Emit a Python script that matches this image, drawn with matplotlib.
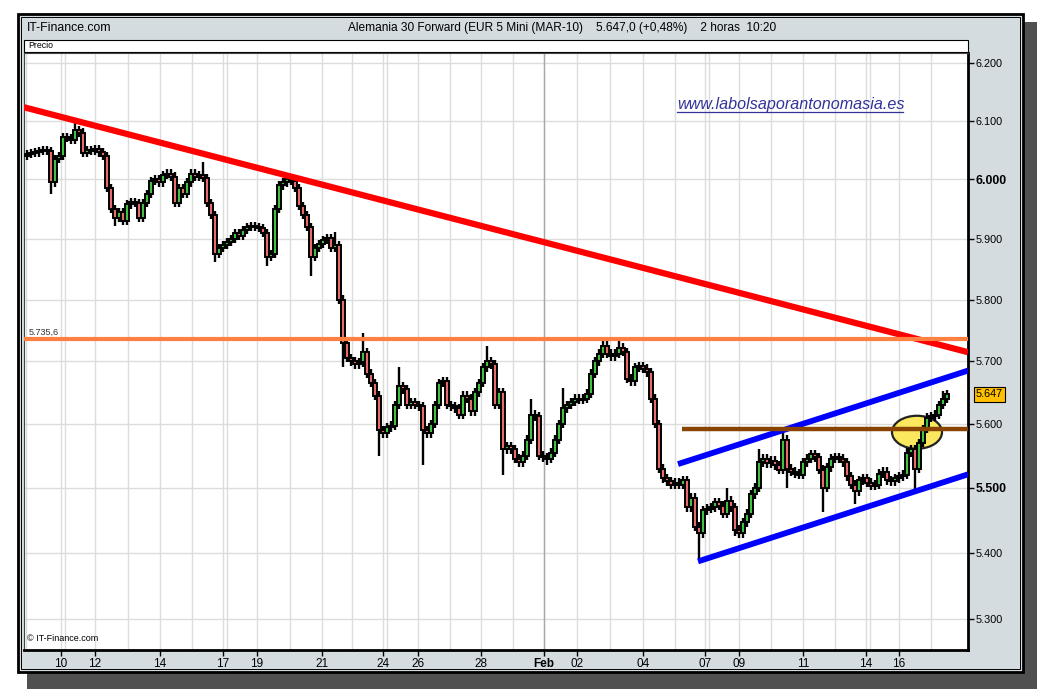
import matplotlib
matplotlib.use("Agg")
import matplotlib.pyplot as plt
from matplotlib.patches import Rectangle, Ellipse
import numpy as np

# ---------------- data ----------------
closes = [
    6043, 6045, 6046, 6048, 6050, 6048, 5995, 6035, 6040, 6072,
    6070, 6068, 6085, 6080, 6045, 6050, 6048, 6052, 6046, 6040,
    5985, 5950, 5935, 5945, 5930, 5958, 5962, 5960, 5935, 5960,
    5975, 5998, 6000, 5995, 6008, 6010, 6005, 5960, 5985, 5975,
    5995, 6010, 6005, 6008, 6002, 5960, 5940, 5875, 5885, 5890,
    5895, 5900, 5910, 5905, 5915, 5920, 5922, 5920, 5918, 5910,
    5870, 5875, 5950, 5990, 5995, 6000, 5998, 5985, 5955, 5940,
    5920, 5870, 5885, 5892, 5898, 5902, 5885, 5890, 5800, 5730,
    5705, 5700, 5695, 5698, 5715, 5680, 5665, 5645, 5590, 5585,
    5595, 5597, 5630, 5660, 5655, 5630, 5635, 5630, 5628, 5590,
    5585, 5600, 5630, 5665, 5668, 5630, 5628, 5625, 5615, 5645,
    5640, 5620, 5650, 5665, 5690, 5700, 5695, 5630, 5650, 5560,
    5565, 5560, 5545, 5540, 5550, 5575, 5615, 5612, 5550, 5548,
    5545, 5555, 5575, 5600, 5625, 5630, 5635, 5640, 5638, 5640,
    5648, 5680, 5700, 5712, 5725, 5712, 5708, 5712, 5722, 5715,
    5672, 5668, 5690, 5692, 5688, 5682, 5640, 5600, 5530, 5515,
    5510, 5505, 5508, 5505, 5512, 5470, 5485, 5440, 5430, 5465,
    5468, 5470, 5478, 5472, 5460, 5480, 5470, 5435, 5430, 5447,
    5460, 5490, 5500, 5540, 5545, 5538, 5542, 5535, 5528, 5575,
    5530, 5525, 5522, 5520, 5540, 5545, 5552, 5548, 5528, 5500,
    5532, 5545, 5548, 5545, 5540, 5518, 5505, 5495, 5512, 5515,
    5508, 5503, 5505, 5522, 5525, 5512, 5510, 5515, 5518, 5520,
    5555, 5560, 5530, 5570, 5592, 5610, 5612, 5615, 5630, 5640,
    5647,
]
first_open = 6040
# notable wick extremes (bar index -> price)
spike_highs = {4: 6057, 12: 6097, 44: 6030, 77: 5912, 84: 5745, 93: 5690,
               115: 5725, 126: 5640, 134: 5657, 144: 5735, 148: 5735,
               175: 5500, 183: 5560, 189: 5590, 229: 5652}
spike_lows = {6: 5975, 22: 5922, 28: 5928, 47: 5862, 60: 5855, 71: 5838,
              79: 5690, 88: 5550, 99: 5535, 119: 5520, 130: 5535,
              168: 5390, 177: 5425, 190: 5500, 199: 5462, 207: 5475,
              222: 5490}
base_wick = 7

# dates: (bar position, label)
tick_pos = [8.5, 17, 33.25, 49, 57.5, 73.75, 89, 97.75, 113.5, 129.25,
            137.5, 154, 169.5, 178, 194, 209.75, 218]
tick_lab = ["10", "12", "14", "17", "19", "21", "24", "26", "28", "Feb",
            "02", "04", "07", "09", "11", "14", "16"]
day_lines = [-0.25, 8.5, 9.5, 17, 25.25, 33.25, 41.25, 49, 50, 57.5, 65.75,
             73.75, 81.25, 89, 90, 97.75, 105.75, 113.5, 121.5, 129.25,
             137.5, 145.75, 154, 162, 169.5, 170.5, 178, 186, 194, 202,
             209.75, 210.75, 218, 226]
feb_line = 129.25

price_ticks = [5300, 5400, 5500, 5600, 5700, 5800, 5900, 6000, 6100, 6200]
bold_ticks = [5500, 6000]

# drawn lines
red_line = ([-0.75, 235.25], [6123.5, 5714.6])
orange_level = 5735.6
blue_upper = ([162.75, 235.25], [5537, 5685])
blue_lower = ([167.75, 235.25], [5387, 5521])
brown_level = ([163.75, 235.25], 5592)
ellipse_c = (222.5, 5587)
ellipse_wh = (12.5, 52)

# ---------------- figure ----------------
W, H = 1040, 690
fig = plt.figure(figsize=(W / 100, H / 100), dpi=100)
fig.patch.set_facecolor("white")

def fx(x):
    return x / W

def fy(y):
    return 1 - y / H

def frect(x0, y0, x1, y1, **kw):
    r = Rectangle((fx(x0), fy(y1)), fx(x1) - fx(x0), fy(y0) - fy(y1),
                  transform=fig.transFigure, **kw)
    fig.patches.append(r)
    return r

# shadow + panel
frect(27, 22, 1037, 689, facecolor="#505050", edgecolor="none", zorder=-3)
frect(18, 14, 1023, 672, facecolor="#d4dce0", edgecolor="black", lw=2.0, zorder=-2)
frect(21, 17, 1020, 669, facecolor="none", edgecolor="black", lw=0.7, zorder=-1.5)
# Precio bar
frect(24, 40, 968, 52, facecolor="white", edgecolor="black", lw=0.8, zorder=-1)

narrow = ["Liberation Sans Narrow", "Liberation Sans", "DejaVu Sans"]
fig.text(fx(27), fy(28), "IT-Finance.com", fontsize=8.8, family=narrow,
         va="center", ha="left")
fig.text(fx(562), fy(28),
         "Alemania 30 Forward (EUR 5 Mini (MAR-10)    5.647,0 (+0,48%)    2 horas  10:20",
         fontsize=8.6, family=narrow, va="center", ha="center")
fig.text(fx(28), fy(46), "Precio", fontsize=6.3, family=narrow,
         va="center", ha="left")

ax = fig.add_axes([fx(24), fy(650), fx(968) - fx(24), fy(53) - fy(650)])
ax.set_zorder(2)
ax.set_facecolor("white")
ax.set_yscale("log")
ax.set_xlim(-0.75, 235.25)
ax.set_ylim(5254, 6218)

# grid
for d in day_lines:
    ax.axvline(d, color="#dcdcdc", lw=1.0, zorder=0.5)
ax.axvline(feb_line, color="#a8a8a8", lw=1.0, zorder=0.6)
for p in price_ticks:
    ax.axhline(p, color="#dcdcdc", lw=1.0, zorder=0.5)

# candles
n = len(closes)
xs = np.arange(n)
opens = [first_open] + closes[:-1]
highs, lows = [], []
for i in range(n):
    top = max(opens[i], closes[i])
    bot = min(opens[i], closes[i])
    highs.append(spike_highs.get(i, top + base_wick))
    lows.append(spike_lows.get(i, bot - base_wick))
ax.vlines(xs, lows, highs, color="black", lw=1.7, zorder=2.5)
cols = ["#3fc23f" if c >= o else "#e86a6a" for o, c in zip(opens, closes)]
bots = [min(o, c) for o, c in zip(opens, closes)]
hts = [max(abs(c - o), 2.0) for o, c in zip(opens, closes)]
ax.bar(xs, hts, bottom=bots, width=0.8, color=cols, edgecolor="black",
       lw=1.4, zorder=3)

# ellipse
ax.add_patch(Ellipse(ellipse_c, ellipse_wh[0], ellipse_wh[1],
                     facecolor="#fbe85e", edgecolor="#222222", lw=1.6, zorder=2))

# lines
ax.plot(red_line[0], red_line[1], color="#ff0000", lw=4.5, zorder=4,
        solid_capstyle="butt")
ax.axhline(orange_level, color="#ff8040", lw=3.0, zorder=4)
ax.plot(blue_upper[0], blue_upper[1], color="#0000ff", lw=4.2, zorder=4,
        solid_capstyle="butt")
ax.plot(blue_lower[0], blue_lower[1], color="#0000ff", lw=4.2, zorder=4,
        solid_capstyle="butt")
ax.plot(brown_level[0], [brown_level[1]] * 2, color="#884400", lw=3.2,
        zorder=4, solid_capstyle="butt")

def fmt_thousands(v, dec=0):
    s = f"{v:,.{dec}f}"
    return s.replace(",", "X").replace(".", ",").replace("X", ".")

ax.text(0.5, orange_level * 1.0008, fmt_thousands(orange_level, 1),
        fontsize=6.5, color="#333333", va="bottom", ha="left",
        family=["Liberation Sans", "DejaVu Sans"], zorder=5)

# watermark
ax.text((677 - 24) / 944, 1 - (104 - 53) / 597,
        "www.labolsaporantonomasia.es", transform=ax.transAxes,
        fontsize=11.6, style="italic", color="#333399",
        family=["Liberation Sans", "DejaVu Sans"], va="center", ha="left",
        zorder=6)
ax.plot([(677 - 24) / 944, (903 - 24) / 944],
        [1 - (111.5 - 53) / 597] * 2, transform=ax.transAxes,
        color="#333399", lw=0.9, zorder=6)
ax.text(0.003, 0.012, "© IT-Finance.com", transform=ax.transAxes,
        fontsize=6.5, family=["Liberation Sans", "DejaVu Sans"],
        va="bottom", ha="left", zorder=6)

# axes styling
ax.yaxis.tick_right()
ax.set_yticks(price_ticks)
ax.set_yticklabels([fmt_thousands(p) for p in price_ticks])
ax.yaxis.set_minor_locator(matplotlib.ticker.NullLocator())
for lab, p in zip(ax.get_yticklabels(), price_ticks):
    lab.set_fontfamily(["Liberation Sans", "DejaVu Sans"])
    lab.set_fontsize(7.8)
    if p in bold_ticks:
        lab.set_fontweight("bold")
        lab.set_fontsize(8.8)
ax.tick_params(axis="y", direction="out", length=4, width=1, pad=1.5,
               colors="black")

# last price tag
last = closes[-1]
from matplotlib.transforms import blended_transform_factory
bt = blended_transform_factory(ax.transAxes, ax.transData)
ax.text(1.0085, last, fmt_thousands(last), transform=bt, fontsize=7.8,
        family=["Liberation Sans", "DejaVu Sans"], va="center", ha="left",
        bbox=dict(boxstyle="square,pad=0.2", facecolor="#ffc000",
                  edgecolor="black", lw=0.8), clip_on=False, zorder=7)

ax.set_xticks(tick_pos)
ax.set_xticklabels(tick_lab)
ax.xaxis.set_minor_locator(matplotlib.ticker.NullLocator())
for lab, t in zip(ax.get_xticklabels(), tick_lab):
    lab.set_fontfamily(narrow)
    lab.set_fontsize(8.5)
    if t == "Feb":
        lab.set_fontweight("bold")
ax.tick_params(axis="x", direction="out", length=4, width=1, pad=2)

for side in ["left", "top"]:
    ax.spines[side].set_linewidth(0.8)
    ax.spines[side].set_color("#444444")
for side in ["right", "bottom"]:
    ax.spines[side].set_linewidth(2.0)
    ax.spines[side].set_color("black")

fig.savefig("out.png", dpi=100)
